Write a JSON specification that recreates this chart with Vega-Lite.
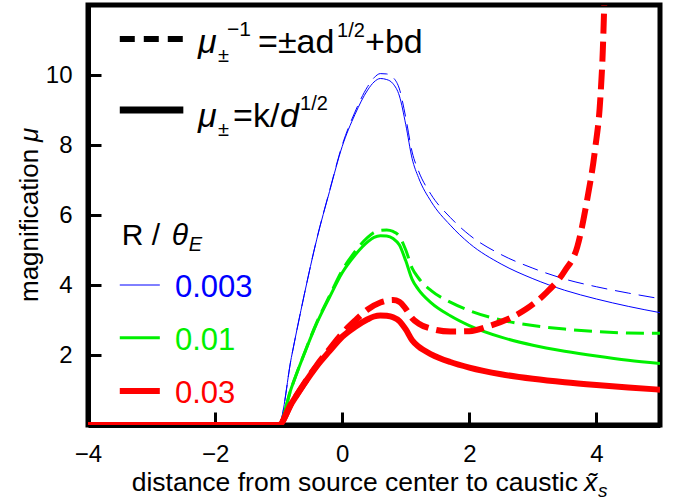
{
  "$schema": "https://vega.github.io/schema/vega-lite/v6.json",
  "width": 572,
  "height": 420,
  "autosize": {"type": "none"},
  "padding": {"left": 88, "top": 5, "right": 15, "bottom": 78},
  "background": "white",
  "config": {
    "font": "Liberation Sans",
    "view": {"stroke": "black", "strokeWidth": 5},
    "axis": {
      "grid": false,
      "domainColor": "black",
      "domainWidth": 5,
      "tickColor": "black",
      "tickWidth": 3,
      "tickSize": -13,
      "labelFont": "Liberation Sans",
      "labelFontSize": 24,
      "labelColor": "black",
      "labelFlush": false,
      "zindex": 1
    },
    "text": {"font": "Liberation Sans", "color": "black", "align": "left", "baseline": "alphabetic"}
  },
  "datasets": {
    "one": [{}],
    "bs": [{"x":-4,"mu":0},{"x":-1,"mu":0},{"x":-0.8,"mu":1.93},{"x":-0.6,"mu":3.70},{"x":-0.4,"mu":5.31},{"x":-0.2,"mu":6.67},{"x":0,"mu":7.96},{"x":0.2,"mu":8.87},{"x":0.4,"mu":9.57},{"x":0.5,"mu":9.80},{"x":0.6,"mu":9.90},{"x":0.7,"mu":9.87},{"x":0.8,"mu":9.75},{"x":0.9,"mu":9.40},{"x":1.0,"mu":8.58},{"x":1.1,"mu":7.61},{"x":1.2,"mu":7.07},{"x":1.4,"mu":6.38},{"x":1.7,"mu":5.71},{"x":2,"mu":5.19},{"x":2.5,"mu":4.60},{"x":3,"mu":4.18},{"x":3.5,"mu":3.85},{"x":4,"mu":3.60},{"x":4.5,"mu":3.39},{"x":5,"mu":3.21}],
    "bd": [{"x":-4,"mu":0},{"x":-1,"mu":0},{"x":-0.8,"mu":1.93},{"x":-0.6,"mu":3.70},{"x":-0.4,"mu":5.32},{"x":-0.2,"mu":6.69},{"x":0,"mu":8.00},{"x":0.2,"mu":8.94},{"x":0.4,"mu":9.67},{"x":0.5,"mu":9.92},{"x":0.6,"mu":10.04},{"x":0.7,"mu":10.03},{"x":0.8,"mu":9.93},{"x":0.9,"mu":9.60},{"x":1.0,"mu":8.78},{"x":1.1,"mu":7.80},{"x":1.2,"mu":7.26},{"x":1.4,"mu":6.58},{"x":1.7,"mu":5.93},{"x":2,"mu":5.43},{"x":2.5,"mu":4.87},{"x":3,"mu":4.48},{"x":3.5,"mu":4.17},{"x":4,"mu":3.95},{"x":4.5,"mu":3.77},{"x":5,"mu":3.61}],
    "gs": [{"x":-4,"mu":0},{"x":-1,"mu":0},{"x":-0.8,"mu":1.06},{"x":-0.6,"mu":2.02},{"x":-0.4,"mu":2.91},{"x":-0.2,"mu":3.65},{"x":0,"mu":4.35},{"x":0.2,"mu":4.85},{"x":0.4,"mu":5.23},{"x":0.5,"mu":5.36},{"x":0.6,"mu":5.41},{"x":0.7,"mu":5.40},{"x":0.8,"mu":5.33},{"x":0.9,"mu":5.14},{"x":1.0,"mu":4.69},{"x":1.1,"mu":4.16},{"x":1.2,"mu":3.87},{"x":1.4,"mu":3.49},{"x":1.7,"mu":3.12},{"x":2,"mu":2.84},{"x":2.5,"mu":2.51},{"x":3,"mu":2.28},{"x":3.5,"mu":2.11},{"x":4,"mu":1.97},{"x":4.5,"mu":1.85},{"x":5,"mu":1.76}],
    "gd": [{"x":-4,"mu":0},{"x":-1,"mu":0},{"x":-0.8,"mu":1.06},{"x":-0.6,"mu":2.03},{"x":-0.4,"mu":2.93},{"x":-0.2,"mu":3.69},{"x":0,"mu":4.42},{"x":0.2,"mu":4.95},{"x":0.4,"mu":5.36},{"x":0.5,"mu":5.50},{"x":0.6,"mu":5.56},{"x":0.7,"mu":5.57},{"x":0.8,"mu":5.53},{"x":0.9,"mu":5.39},{"x":1.0,"mu":5.00},{"x":1.1,"mu":4.48},{"x":1.2,"mu":4.20},{"x":1.4,"mu":3.84},{"x":1.7,"mu":3.51},{"x":2,"mu":3.27},{"x":2.5,"mu":3.00},{"x":3,"mu":2.84},{"x":3.5,"mu":2.74},{"x":4,"mu":2.67},{"x":4.5,"mu":2.63},{"x":5,"mu":2.62}],
    "rs": [{"x":-4,"mu":0},{"x":-1,"mu":0},{"x":-0.8,"mu":0.61},{"x":-0.6,"mu":1.17},{"x":-0.4,"mu":1.68},{"x":-0.2,"mu":2.11},{"x":0,"mu":2.52},{"x":0.2,"mu":2.80},{"x":0.4,"mu":3.02},{"x":0.5,"mu":3.10},{"x":0.6,"mu":3.13},{"x":0.7,"mu":3.12},{"x":0.8,"mu":3.08},{"x":0.9,"mu":2.97},{"x":1.0,"mu":2.73},{"x":1.1,"mu":2.42},{"x":1.2,"mu":2.24},{"x":1.4,"mu":2.02},{"x":1.7,"mu":1.80},{"x":2,"mu":1.64},{"x":2.5,"mu":1.45},{"x":3,"mu":1.32},{"x":3.5,"mu":1.22},{"x":4,"mu":1.14},{"x":4.5,"mu":1.07},{"x":5,"mu":1.01}],
    "rd": [{"x":-4,"mu":0},{"x":-1,"mu":0},{"x":-0.8,"mu":0.61},{"x":-0.6,"mu":1.18},{"x":-0.4,"mu":1.71},{"x":-0.2,"mu":2.17},{"x":0,"mu":2.62},{"x":0.2,"mu":2.98},{"x":0.4,"mu":3.30},{"x":0.6,"mu":3.50},{"x":0.8,"mu":3.57},{"x":0.9,"mu":3.52},{"x":1.0,"mu":3.32},{"x":1.1,"mu":3.05},{"x":1.2,"mu":2.90},{"x":1.4,"mu":2.75},{"x":1.7,"mu":2.67},{"x":2.0,"mu":2.68},{"x":2.3,"mu":2.82},{"x":2.6,"mu":3.02},{"x":2.9,"mu":3.32},{"x":3.2,"mu":3.76},{"x":3.5,"mu":4.4},{"x":3.7,"mu":5.1},{"x":3.85,"mu":6.4},{"x":3.98,"mu":7.9},{"x":4.06,"mu":9.3},{"x":4.1,"mu":10.7},{"x":4.13,"mu":12.5},{"x":4.15,"mu":14}]
  },
  "layer": [
    {
      "data": {"name": "bd"},
      "mark": {"type": "line", "clip": true, "interpolate": "monotone", "color": "#0000ff", "strokeWidth": 1, "strokeDash": [16, 8]},
      "encoding": {
        "x": {"field": "x", "type": "quantitative", "scale": {"domain": [-4, 5], "nice": false, "zero": false},
              "axis": {"values": [-4, -2, 0, 2, 4], "format": "d", "labelPadding": 30, "title": null}},
        "y": {"field": "mu", "type": "quantitative", "scale": {"domain": [0, 12], "nice": false, "zero": false},
              "axis": {"values": [2, 4, 6, 8, 10], "format": "d", "labelPadding": 29, "title": null}}
      }
    },
    {
      "data": {"name": "bs"},
      "mark": {"type": "line", "clip": true, "interpolate": "monotone", "color": "#0000ff", "strokeWidth": 1},
      "encoding": {"x": {"field": "x", "type": "quantitative"}, "y": {"field": "mu", "type": "quantitative"}}
    },
    {
      "data": {"name": "gd"},
      "mark": {"type": "line", "clip": true, "interpolate": "monotone", "color": "#00f000", "strokeWidth": 3, "strokeDash": [18, 8]},
      "encoding": {"x": {"field": "x", "type": "quantitative"}, "y": {"field": "mu", "type": "quantitative"}}
    },
    {
      "data": {"name": "gs"},
      "mark": {"type": "line", "clip": true, "interpolate": "monotone", "color": "#00f000", "strokeWidth": 3},
      "encoding": {"x": {"field": "x", "type": "quantitative"}, "y": {"field": "mu", "type": "quantitative"}}
    },
    {
      "data": {"name": "rd"},
      "mark": {"type": "line", "clip": true, "interpolate": "monotone", "color": "#ff0000", "strokeWidth": 6, "strokeDash": [20, 8]},
      "encoding": {"x": {"field": "x", "type": "quantitative"}, "y": {"field": "mu", "type": "quantitative"}}
    },
    {
      "data": {"name": "rs"},
      "mark": {"type": "line", "clip": true, "interpolate": "monotone", "color": "#ff0000", "strokeWidth": 6},
      "encoding": {"x": {"field": "x", "type": "quantitative"}, "y": {"field": "mu", "type": "quantitative"}}
    },
    {
      "data": {"name": "one"},
      "layer": [
        {"mark": {"type": "rule", "color": "black", "strokeWidth": 6, "strokeDash": [15, 9]}, "encoding": {"x": {"datum": -3.5}, "x2": {"datum": -2.5}, "y": {"datum": 11.03}}},
        {"mark": {"type": "rule", "color": "black", "strokeWidth": 7}, "encoding": {"x": {"datum": -3.5}, "x2": {"datum": -2.5}, "y": {"datum": 9.0}}},
        {"mark": {"type": "text", "text": "μ", "fontSize": 34, "fontStyle": "italic", "dx": 2}, "encoding": {"x": {"datum": -2.3}, "y": {"datum": 10.63}}},
        {"mark": {"type": "text", "text": "±", "fontSize": 20, "dx": 22, "dy": 9}, "encoding": {"x": {"datum": -2.3}, "y": {"datum": 10.63}}},
        {"mark": {"type": "text", "text": "−1", "fontSize": 21, "dx": 31, "dy": -17}, "encoding": {"x": {"datum": -2.3}, "y": {"datum": 10.63}}},
        {"mark": {"type": "text", "text": "=±ad", "fontSize": 34, "dx": 62}, "encoding": {"x": {"datum": -2.3}, "y": {"datum": 10.63}}},
        {"mark": {"type": "text", "text": "1/2", "fontSize": 20, "dx": 141, "dy": -16}, "encoding": {"x": {"datum": -2.3}, "y": {"datum": 10.63}}},
        {"mark": {"type": "text", "text": "+bd", "fontSize": 34, "dx": 169}, "encoding": {"x": {"datum": -2.3}, "y": {"datum": 10.63}}},
        {"mark": {"type": "text", "text": "μ", "fontSize": 34, "fontStyle": "italic", "dx": 2}, "encoding": {"x": {"datum": -2.3}, "y": {"datum": 8.51}}},
        {"mark": {"type": "text", "text": "±", "fontSize": 20, "dx": 22, "dy": 9}, "encoding": {"x": {"datum": -2.3}, "y": {"datum": 8.51}}},
        {"mark": {"type": "text", "text": "=k/", "fontSize": 34, "dx": 37}, "encoding": {"x": {"datum": -2.3}, "y": {"datum": 8.51}}},
        {"mark": {"type": "text", "text": "d", "fontSize": 34, "fontStyle": "italic", "dx": 84}, "encoding": {"x": {"datum": -2.3}, "y": {"datum": 8.51}}},
        {"mark": {"type": "text", "text": "1/2", "fontSize": 20, "dx": 104, "dy": -17}, "encoding": {"x": {"datum": -2.3}, "y": {"datum": 8.51}}},
        {"mark": {"type": "text", "text": "R / ", "fontSize": 30}, "encoding": {"x": {"datum": -3.47}, "y": {"datum": 5.143}}},
        {"mark": {"type": "text", "text": "θ", "fontSize": 30, "fontStyle": "italic", "dx": 50}, "encoding": {"x": {"datum": -3.47}, "y": {"datum": 5.143}}},
        {"mark": {"type": "text", "text": "E", "fontSize": 20, "fontStyle": "italic", "dx": 67, "dy": 6}, "encoding": {"x": {"datum": -3.47}, "y": {"datum": 5.143}}},
        {"mark": {"type": "rule", "color": "#0000ff", "strokeWidth": 1}, "encoding": {"x": {"datum": -3.5}, "x2": {"datum": -2.87}, "y": {"datum": 4.0}}},
        {"mark": {"type": "rule", "color": "#00f000", "strokeWidth": 3}, "encoding": {"x": {"datum": -3.5}, "x2": {"datum": -2.87}, "y": {"datum": 2.49}}},
        {"mark": {"type": "rule", "color": "#ff0000", "strokeWidth": 6}, "encoding": {"x": {"datum": -3.5}, "x2": {"datum": -2.87}, "y": {"datum": 0.97}}},
        {"mark": {"type": "text", "text": "0.003", "fontSize": 31, "color": "#0000ff", "dy": 12}, "encoding": {"x": {"datum": -2.631}, "y": {"datum": 4.0}}},
        {"mark": {"type": "text", "text": "0.01", "fontSize": 31, "color": "#00f000", "dy": 12}, "encoding": {"x": {"datum": -2.631}, "y": {"datum": 2.49}}},
        {"mark": {"type": "text", "text": "0.03", "fontSize": 31, "color": "#ff0000", "dy": 12}, "encoding": {"x": {"datum": -2.631}, "y": {"datum": 0.97}}},
        {"mark": {"type": "text", "text": "distance from source center to caustic", "fontSize": 26.5, "align": "right"}, "encoding": {"x": {"datum": 3.709}, "y": {"datum": -1.886}}},
        {"mark": {"type": "text", "text": "x̃", "fontSize": 26.5, "fontStyle": "italic", "dx": 6}, "encoding": {"x": {"datum": 3.709}, "y": {"datum": -1.886}}},
        {"mark": {"type": "text", "text": "s", "fontSize": 19, "fontStyle": "italic", "dx": 20, "dy": 6}, "encoding": {"x": {"datum": 3.709}, "y": {"datum": -1.886}}},
        {"mark": {"type": "text", "text": "magnification", "fontSize": 26, "angle": 270}, "encoding": {"x": {"datum": -4.787}, "y": {"datum": 3.514}}},
        {"mark": {"type": "text", "text": "μ", "fontSize": 26, "fontStyle": "italic", "angle": 270}, "encoding": {"x": {"datum": -4.787}, "y": {"datum": 8.086}}}
      ]
    }
  ]
}
